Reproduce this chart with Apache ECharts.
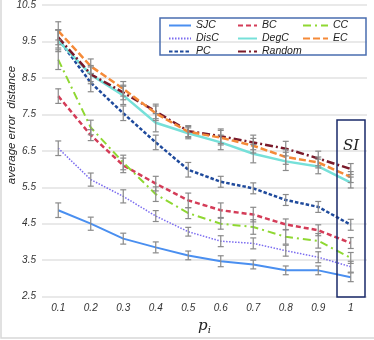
<!DOCTYPE html>
<html><head><meta charset="utf-8">
<script src="https://cdn.jsdelivr.net/npm/echarts@6/dist/echarts.min.js"></script>
<style>html,body{margin:0;padding:0;background:#fff}#c{width:374px;height:340px}</style>
</head><body><div id="c"></div>
<script>
var categories = ['0.1','0.2','0.3','0.4','0.5','0.6','0.7','0.8','0.9','1'];
var SJC    = [4.87,4.50,4.09,3.85,3.63,3.47,3.38,3.22,3.22,3.03];
var DisC   = [6.57,5.71,5.25,4.71,4.28,4.02,3.96,3.76,3.58,3.32];
var BC     = [8.00,6.93,6.10,5.60,5.14,4.87,4.75,4.48,4.32,3.97];
var CC     = [9.00,7.14,6.18,5.31,4.79,4.50,4.41,4.14,4.03,3.56];
var PC     = [9.57,8.37,7.53,6.73,5.98,5.65,5.47,5.15,4.96,4.47];
var DegC   = [9.52,8.59,8.02,7.27,6.98,6.73,6.42,6.21,6.07,5.63];
var EC     = [9.79,8.82,8.20,7.53,7.02,6.86,6.64,6.33,6.18,5.78];
var Random = [9.61,8.60,8.10,7.58,7.04,6.90,6.73,6.56,6.29,6.00];
var errSJC    = [0.20,0.18,0.15,0.15,0.12,0.15,0.12,0.12,0.12,0.12];
var errDisC   = [0.20,0.18,0.18,0.15,0.12,0.15,0.15,0.15,0.15,0.15];
var errBC     = [0.20,0.15,0.20,0.20,0.20,0.20,0.20,0.15,0.15,0.15];
var errCC     = [0.27,0.20,0.20,0.20,0.15,0.15,0.20,0.20,0.20,0.15];
var errPC     = [0.25,0.25,0.20,0.20,0.20,0.15,0.15,0.15,0.15,0.15];
var errDegC   = [0.30,0.25,0.25,0.25,0.15,0.20,0.25,0.25,0.20,0.15];
var errEC     = [0.25,0.20,0.20,0.20,0.15,0.20,0.20,0.20,0.15,0.15];
var errRandom = [0.20,0.20,0.20,0.20,0.15,0.20,0.20,0.20,0.20,0.15];
var yTicks = {min:2.5, max:10.5, step:1};

var defs = [
  {name:'SJC', data:SJC, err:errSJC, color:'#4a8ff0', type:'solid', w:2},
  {name:'DisC', data:DisC, err:errDisC, color:'#7b6cf0', type:[1.5,1.5], w:1.5},
  {name:'PC', data:PC, err:errPC, color:'#1f4a9c', type:[3.5,2], w:2.5},
  {name:'BC', data:BC, err:errBC, color:'#d43c58', type:[5,3], w:2.5},
  {name:'DegC', data:DegC, err:errDegC, color:'#76e0d9', type:'solid', w:2.5},
  {name:'Random', data:Random, err:errRandom, color:'#7a1a2a', type:[8,3,2,3], w:2.5},
  {name:'CC', data:CC, err:errCC, color:'#8fd832', type:[8,4,2,4], w:2},
  {name:'EC', data:EC, err:errEC, color:'#f58a38', type:[7,3], w:2.5}
];
var series = [];
defs.forEach(function(d){
  series.push({name:d.name, type:'line', data:d.data, symbol:'none', z:2,
    lineStyle:{color:d.color, width:d.w, type:d.type}, itemStyle:{color:d.color}});
});
var errData = [];
defs.forEach(function(d){
  d.data.forEach(function(v,i){ errData.push([i, v-d.err[i], v+d.err[i]]); });
});
series.push({type:'custom', z:5, silent:true, data:errData,
  renderItem:function(params, api){
    var lo = api.coord([api.value(0), api.value(1)]);
    var hi = api.coord([api.value(0), api.value(2)]);
    var hw = 3, st = {stroke:'#8a8a8a', lineWidth:1.2};
    return {type:'group', children:[
      {type:'line', shape:{x1:lo[0],y1:lo[1],x2:hi[0],y2:hi[1]}, style:st},
      {type:'line', shape:{x1:lo[0]-hw,y1:lo[1],x2:lo[0]+hw,y2:lo[1]}, style:st},
      {type:'line', shape:{x1:hi[0]-hw,y1:hi[1],x2:hi[0]+hw,y2:hi[1]}, style:st}
    ]};
  }, encode:{x:0, y:[1,2]}
});
var legText = {fontStyle:'italic', fontSize:10.5, color:'#222', fontFamily:'Liberation Sans'};
function leg(names, left, w){
  return {data:names, orient:'vertical', left:left, top:20, itemGap:2, itemWidth:w, itemHeight:10,
    itemStyle:{opacity:0}, textStyle:legText, padding:0, selectedMode:false};
}
var chart = echarts.init(document.getElementById('c'));
chart.setOption({
  animation:false,
  grid:{left:42, right:7, top:5, bottom:34},
  legend:[leg(['SJC','DisC','PC'],168,22), leg(['BC','DegC','Random'],237,19), leg(['CC','EC'],302,25)],
  xAxis:{type:'category', data:categories, boundaryGap:true,
    axisLine:{show:false}, axisTick:{show:false},
    axisLabel:{fontStyle:'italic', fontSize:10, color:'#333', margin:7, fontFamily:'Liberation Sans'},
    name:'{p|p}{i|i}', nameLocation:'middle', nameGap:17,
    nameTextStyle:{rich:{p:{fontFamily:'DejaVu Serif', fontStyle:'italic', fontSize:15, color:'#222'},
      i:{fontFamily:'DejaVu Serif', fontStyle:'italic', fontSize:10, color:'#222', padding:[8,0,0,0]}}}},
  yAxis:{type:'value', min:yTicks.min, max:yTicks.max, interval:yTicks.step,
    axisLine:{show:false}, axisTick:{show:false},
    splitLine:{lineStyle:{color:'#e2e2e2', width:1.5}},
    axisLabel:{fontStyle:'italic', fontSize:10, color:'#333', margin:6, fontFamily:'Liberation Sans',
      formatter:function(v){return v.toFixed(1);}}},
  graphic:[
    {type:'rect', shape:{x:160, y:18, width:206, height:37}, style:{fill:null, stroke:'#4a6db0', lineWidth:1.5}, z:10},
    {type:'rect', shape:{x:337, y:120, width:28, height:177}, style:{fill:null, stroke:'#1a2a6a', lineWidth:1.5}, z:10},
    {type:'text', x:351, y:146, style:{text:'SI', font:'italic 15px "DejaVu Serif"', fill:'#222', align:'center', verticalAlign:'middle'}, z:10},
    {type:'text', x:12, y:125, rotation:Math.PI/2, style:{text:'average error  distance', font:'italic 11.5px "Liberation Sans"', fill:'#222', align:'center', verticalAlign:'middle'}},
    {type:'polyline', shape:{points:[[1,0],[1,338],[374,338]]}, style:{stroke:'#d8d8d8', lineWidth:1.5, fill:null}}
  ],
  series:series
});
</script></body></html>
